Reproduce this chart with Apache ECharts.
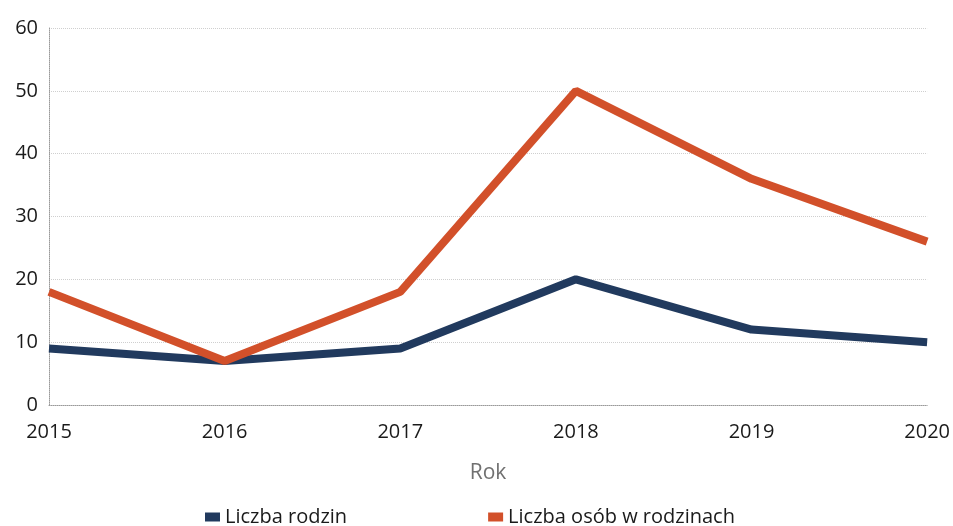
<!DOCTYPE html>
<html>
<head>
<meta charset="utf-8">
<script src="https://cdn.jsdelivr.net/npm/echarts@6/dist/echarts.min.js"></script>
<style>
html, body { margin: 0; padding: 0; background: #ffffff; }
#chart { width: 953px; height: 526px; }
</style>
</head>
<body>
<div id="chart"></div>
<script>
var years = ['2015', '2016', '2017', '2018', '2019', '2020'];
var rodziny = [9, 7, 9, 20, 12, 10];
var osoby = [18, 7, 18, 50, 36, 26];
var yTicks = [0, 10, 20, 30, 40, 50, 60];

var navy = '#213a5e';
var red = '#d2502a';
var axisColor = '#9a9a9a';
var labelColor = '#1a1a1a';

var chart = echarts.init(document.getElementById('chart'));
chart.setOption({
    backgroundColor: '#ffffff',
    textStyle: { fontFamily: 'Open Sans' },
    grid: { left: 49, right: 25, top: 28, bottom: 121 },
    legend: {
        bottom: -6,
        left: 200,
        itemGap: 141,
        icon: 'rect',
        itemWidth: 15,
        itemHeight: 9,
        textStyle: { fontSize: 20, color: labelColor, fontFamily: 'Open Sans' },
        data: ['Liczba rodzin', 'Liczba osób w rodzinach']
    },
    xAxis: {
        type: 'category',
        data: years,
        boundaryGap: false,
        name: 'Rok',
        nameLocation: 'middle',
        nameGap: 58,
        nameTextStyle: { fontSize: 21, color: '#707070' },
        axisLine: { lineStyle: { color: axisColor, type: 'dotted', width: 1 } },
        axisTick: { show: false },
        axisLabel: { fontSize: 20, color: labelColor, margin: 17 },
        splitLine: { show: false }
    },
    yAxis: {
        type: 'value',
        min: yTicks[0],
        max: yTicks[yTicks.length - 1],
        interval: 10,
        axisLine: { show: true, lineStyle: { color: axisColor, type: 'dotted', width: 1 } },
        axisTick: { show: false },
        axisLabel: { fontSize: 20, color: labelColor, margin: 11 },
        splitLine: { lineStyle: { color: '#cfcfcf', type: 'dotted', width: 1 } }
    },
    series: [{
        name: 'Liczba rodzin',
        type: 'line',
        data: rodziny,
        symbol: 'none',
        color: navy,
        lineStyle: { width: 8, color: navy },
        z: 2
    }, {
        name: 'Liczba osób w rodzinach',
        type: 'line',
        data: osoby,
        symbol: 'none',
        color: red,
        lineStyle: { width: 8, color: red },
        z: 3
    }]
});
</script>
</body>
</html>
